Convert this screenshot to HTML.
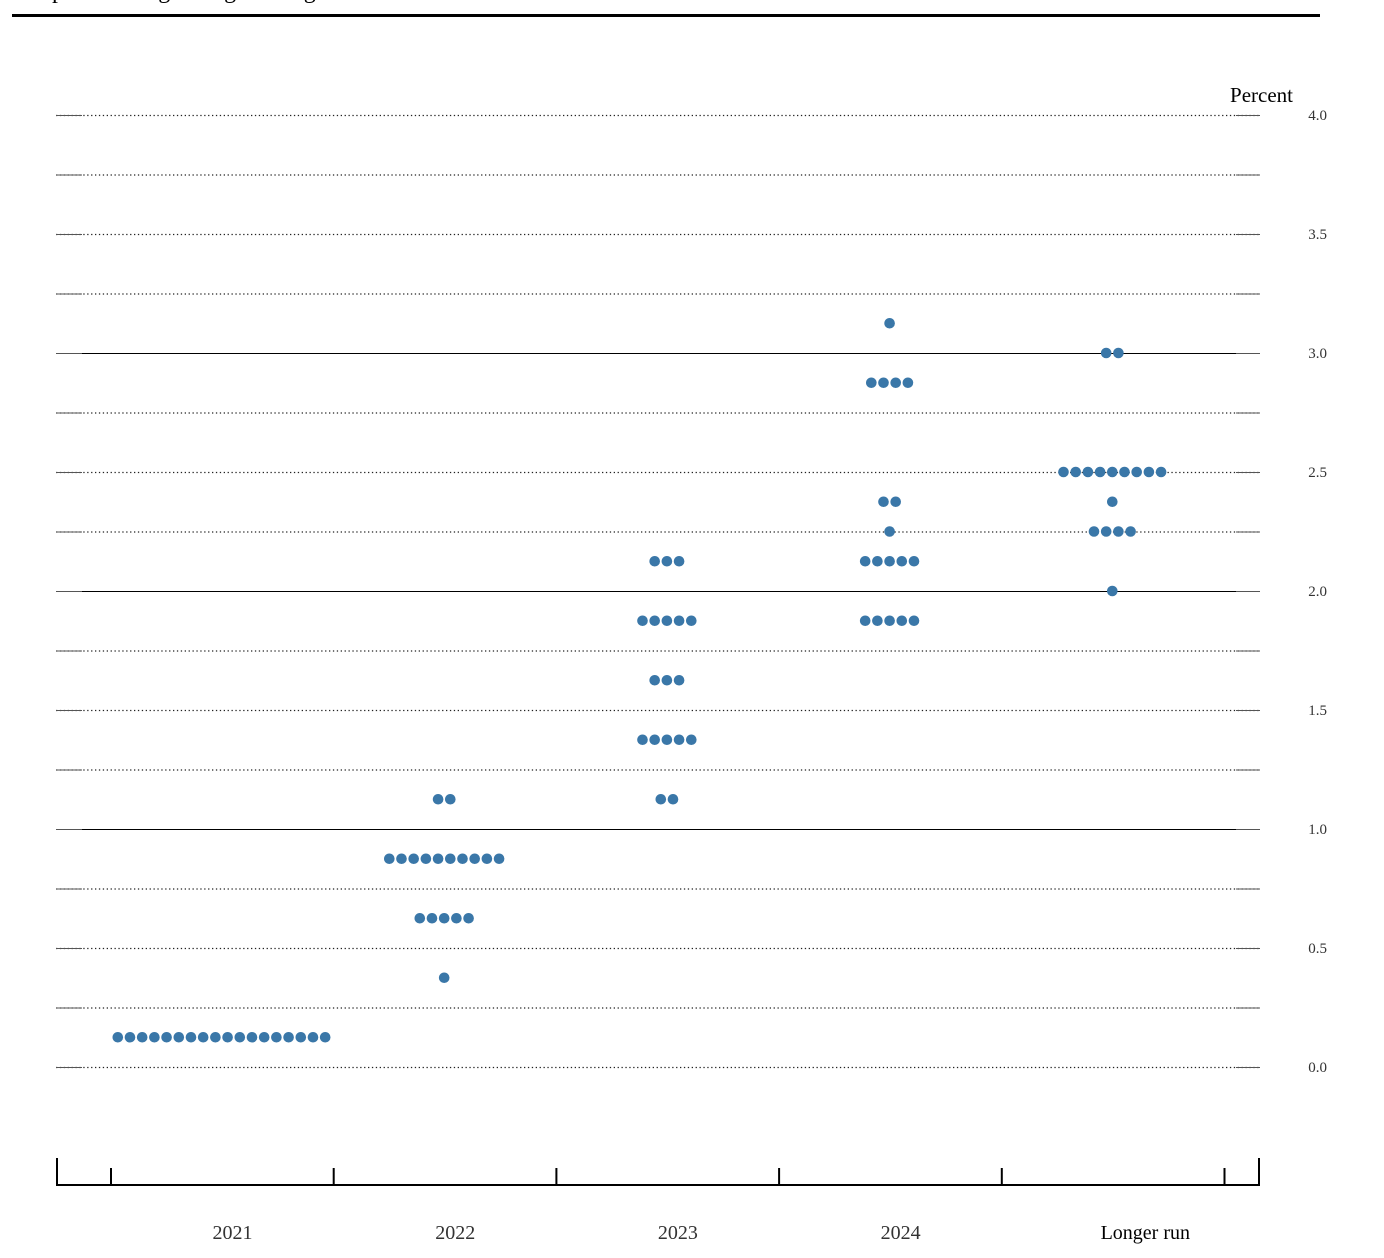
<!DOCTYPE html>
<html><head><meta charset="utf-8"><style>
body{margin:0;background:#fff;width:1384px;height:1258px;overflow:hidden}
svg{display:block;font-family:"Liberation Serif",serif}
</style></head><body>
<svg id="chart" width="1384" height="1258" viewBox="0 0 1384 1258">
<text x="12" y="-2" font-size="24" fill="#000">Midpoint of target range or target level for the federal funds rate</text>
<line x1="12" y1="15.5" x2="1320" y2="15.5" stroke="#000" stroke-width="3"/>
<text x="1293" y="102" font-size="21" text-anchor="end" fill="#000">Percent</text>
<g id="grid"></g><g id="dots"></g><g id="xaxis"></g>
</svg>
<script>
const categories = ["2021","2022","2023","2024","Longer run"];
const rates2021 = [[0.125,18]];
const rates2022 = [[0.375,1],[0.625,5],[0.875,10],[1.125,2]];
const rates2023 = [[1.125,2],[1.375,5],[1.625,3],[1.875,5],[2.125,3]];
const rates2024 = [[1.875,5],[2.125,5],[2.25,1],[2.375,2],[2.875,4],[3.125,1]];
const ratesLR = [[2.0,1],[2.25,4],[2.375,1],[2.5,9],[3.0,2]];
const yTicks = ["0.0","0.5","1.0","1.5","2.0","2.5","3.0","3.5","4.0"];
const series = [rates2021,rates2022,rates2023,rates2024,ratesLR];
const NS="http://www.w3.org/2000/svg";
const y = v => 1067 - v*238;
const xc = i => 221.5 + i*222.7;
function mk(t,a,p){const e=document.createElementNS(NS,t);for(const k in a)e.setAttribute(k,a[k]);p.appendChild(e);return e;}
const grid=document.getElementById('grid');
for(let k=0;k<=16;k++){
  const v=k*0.25, yy=y(v)+0.5, solid=(k===4||k===8||k===12);
  const l=mk('line',{x1:56,x2:1260,y1:yy,y2:yy,stroke:solid?'#000':'#222','stroke-width':solid?1:1.3,'stroke-dasharray':solid?'':'1.3 2.6'},grid);
  
  
  mk('line',{x1:56,x2:82,y1:yy,y2:yy,stroke:'#555','stroke-width':1},grid);
  mk('line',{x1:1236,x2:1260,y1:yy,y2:yy,stroke:'#555','stroke-width':1},grid);
}
yTicks.forEach(t=>{
  const tx=mk('text',{x:1327,y:y(parseFloat(t))+5,'font-size':15,'text-anchor':'end',fill:'#333'},grid);
  tx.textContent=t;
  
  
});
const dots=document.getElementById('dots');
series.forEach((s,i)=>{
  s.forEach(([v,n])=>{
    for(let j=0;j<n;j++){
      const c=mk('circle',{cx:xc(i)+(j-(n-1)/2)*12.2,cy:y(v),r:5.3,fill:'#3a77a8'},dots);
      
      
    }
  });
});
const xa=document.getElementById('xaxis');
const ax=mk('line',{x1:56,x2:1260,y1:1185,y2:1185,stroke:'#000','stroke-width':2},xa);


mk('line',{x1:57,x2:57,y1:1158,y2:1186,stroke:'#000','stroke-width':2},xa);
mk('line',{x1:1259,x2:1259,y1:1158,y2:1186,stroke:'#000','stroke-width':2},xa);
for(let i=0;i<=5;i++){const xx=xc(i)-110.5;mk('line',{x1:xx,x2:xx,y1:1168,y2:1186,stroke:'#000','stroke-width':2},xa);}
categories.forEach((c,i)=>{
  const t=mk('text',{x:xc(i)+11+(i===4?22:0),y:1239,'font-size':20,'text-anchor':'middle',fill:i===4?'#000':'#333'},xa);
  t.textContent=c;
  
  
});
</script>
</body></html>
